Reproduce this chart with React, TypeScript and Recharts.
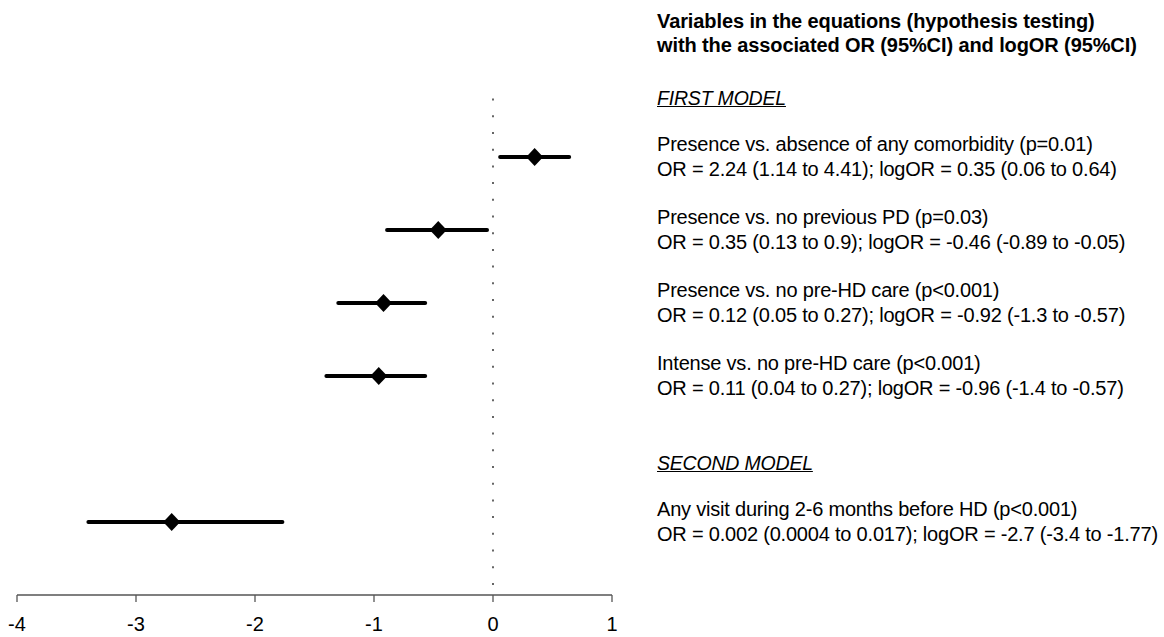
import { ComposedChart, Scatter, XAxis, YAxis, ReferenceLine } from "recharts";

// ── data ─────────────────────────────────────────────────────────────────────

const rowPos = [1, 2, 3, 4, 6];
const logOR = [0.35, -0.46, -0.92, -0.96, -2.7];
const ciLow = [0.06, -0.89, -1.3, -1.4, -3.4];
const ciHigh = [0.64, -0.05, -0.57, -0.57, -1.77];
const xTicks = [-4, -3, -2, -1, 0, 1];

const titleLines = [
  "Variables in the equations (hypothesis testing)",
  "with the associated OR (95%CI) and logOR (95%CI)",
];
const modelNames = ["FIRST MODEL", "SECOND MODEL"];
const modelRows = [1, 6];
const rowLabels = [
  "Presence vs. absence of any comorbidity (p=0.01)",
  "Presence vs. no previous PD (p=0.03)",
  "Presence vs. no pre-HD care (p<0.001)",
  "Intense vs. no pre-HD care (p<0.001)",
  "Any visit during 2-6 months before HD (p<0.001)",
];
const rowStats = [
  "OR = 2.24 (1.14 to 4.41); logOR = 0.35 (0.06 to 0.64)",
  "OR = 0.35 (0.13 to 0.9); logOR = -0.46 (-0.89 to -0.05)",
  "OR = 0.12 (0.05 to 0.27); logOR = -0.92 (-1.3 to -0.57)",
  "OR = 0.11 (0.04 to 0.27); logOR = -0.96 (-1.4 to -0.57)",
  "OR = 0.002 (0.0004 to 0.017); logOR = -2.7 (-3.4 to -1.77)",
];

// ── layout ───────────────────────────────────────────────────────────────────

const W = 1164;
const H = 637;
const TOP = 84;
const ROW_H = 73;
const LINE_H = 25;
const FONT = "'Liberation Sans', Arial, Helvetica, sans-serif";

function Diamond(props: any) {
  const { cx, cy } = props;
  if (cx == null || cy == null) return <g />;
  const w = 8.5;
  const h = 9;
  return (
    <polygon
      points={`${cx},${cy - h} ${cx + w},${cy} ${cx},${cy + h} ${cx - w},${cy}`}
      fill="#000"
    />
  );
}

const pointData = rowPos.map((r, i) => ({ x: logOR[i], y: r }));

export default function App() {
  return (
    <div
      style={{
        position: "fixed",
        left: 0,
        top: 0,
        width: W,
        height: H,
        background: "#fff",
        fontFamily: FONT,
        color: "#000",
      }}
    >
      <ComposedChart
        width={W}
        height={H}
        margin={{ top: TOP, right: 552, bottom: 0, left: 17 }}
      >
        <XAxis
          type="number"
          dataKey="x"
          domain={[-4, 1]}
          ticks={xTicks}
          interval={0}
          height={42}
          axisLine={{ stroke: "#555", strokeWidth: 1.3 }}
          tickLine={{ stroke: "#555", strokeWidth: 1.3 }}
          tickSize={7}
          tickMargin={15}
          tick={{ fontSize: 20, fill: "#000", fontFamily: FONT }}
        />
        <YAxis type="number" dataKey="y" domain={[0, 7]} reversed hide />
        <ReferenceLine
          segment={[
            { x: 0, y: 0.2 },
            { x: 0, y: 7 },
          ]}
          stroke="#000"
          strokeWidth={1.2}
          strokeDasharray="2 14.7"
        />
        {rowPos.map((r, i) => (
          <Scatter
            key={i}
            data={[
              { x: ciLow[i], y: r },
              { x: ciHigh[i], y: r },
            ]}
            line={{ stroke: "#000", strokeWidth: 4, strokeLinecap: "round" }}
            shape={() => <g />}
            isAnimationActive={false}
          />
        ))}
        <Scatter data={pointData} shape={Diamond} isAnimationActive={false} />
      </ComposedChart>

      {/* right-hand annotation block */}
      <div
        style={{
          position: "absolute",
          left: 657,
          top: 9,
          fontSize: 20,
          fontWeight: 700,
          lineHeight: "24px",
          letterSpacing: "-0.005em",
          whiteSpace: "nowrap",
        }}
      >
        {titleLines.map((t) => (
          <div key={t}>{t}</div>
        ))}
      </div>

      {modelNames.map((m, i) => (
        <div
          key={m}
          style={{
            position: "absolute",
            left: 657,
            top: TOP + (modelRows[i] - 1) * ROW_H + 1,
            fontSize: 19.5,
            fontStyle: "italic",
            textDecoration: "underline",
            letterSpacing: "-0.01em",
            lineHeight: "26px",
            whiteSpace: "nowrap",
          }}
        >
          {m}
        </div>
      ))}

      {rowLabels.map((label, i) => (
        <div
          key={label}
          style={{
            position: "absolute",
            left: 657,
            top: TOP + rowPos[i] * ROW_H - LINE_H,
            fontSize: 20,
            lineHeight: `${LINE_H}px`,
            letterSpacing: "-0.01em",
            whiteSpace: "nowrap",
          }}
        >
          <div>{label}</div>
          <div>{rowStats[i]}</div>
        </div>
      ))}
    </div>
  );
}
